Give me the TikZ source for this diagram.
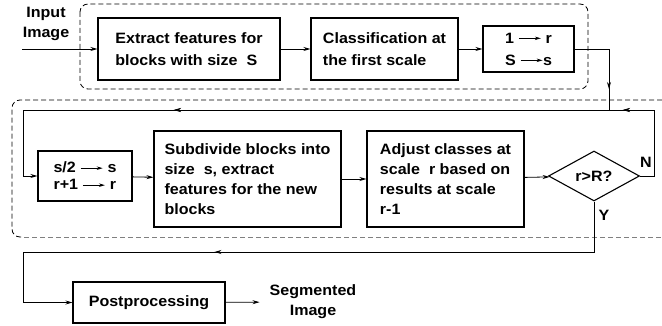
\documentclass[tikz,border=0pt]{standalone}
\usepackage{fontspec}
\setmainfont{Liberation Sans}[FakeStretch=1.07]
\usepackage{tikz}
\usetikzlibrary{arrows.meta, shapes.geometric, decorations.markings}

\newcommand{\goesto}{\tikz[baseline=-0.6ex]\draw[line width=0.8pt,-{Stealth[length=6pt,width=3.5pt]}] (0,0) -- (22pt,0);}

\tikzset{
  box/.style={draw, line width=1.1pt, align=left, inner sep=2pt,
    font=\fontsize{15}{20}\selectfont\bfseries},
  label/.style={align=center, inner sep=0pt,
    font=\fontsize{15}{20}\selectfont\bfseries},
  arr/.style={line width=0.8pt, -{Stealth[length=7pt,width=4pt]}},
  line/.style={line width=0.8pt},
  group/.style={dashed, dash pattern=on 5pt off 3pt, line width=0.8pt},
  tipat/.style={decoration={markings,
      mark=at position #1 with {\arrow{Stealth[length=7pt,width=4pt]}}},
    postaction={decorate}}
}

\begin{document}
\begin{tikzpicture}[x=1pt, y=-1pt]
  \useasboundingbox (0,0) rectangle (662,326);
  % first scale
  \draw[group, rounded corners=8pt] (80,4) rectangle (588,89);
  \node[label] (input) at (46,24) {Input\\Image};
  \coordinate (start) at (22,49);
  \node[box, minimum width=182pt, minimum height=62pt,
    font=\fontsize{15}{22}\selectfont\bfseries] (extract) at (189,49)
    {Extract features for\\blocks with size~~S};
  \node[box, minimum width=147pt, minimum height=62pt,
    font=\fontsize{15}{22}\selectfont\bfseries] (classify) at (384.5,49)
    {Classification at\\the first scale};
  \node[box, align=center, minimum width=91pt, minimum height=46pt,
    font=\fontsize{15}{22}\selectfont\bfseries] (init) at (528.5,49)
    {1 \goesto\ r\\S \goesto s};
  \draw[arr] (start) -- (extract);
  \draw[arr] (extract) -- (classify);
  \draw[arr] (classify) -- (init);

  % finer scales
  \draw[group, rounded corners=8pt] (662,100) -- (12,100) -- (12,237) -- (24,237);
  \draw[group, gray] (24,237) -- (662,237);
  \node[box, minimum width=94pt, minimum height=50pt,
    font=\fontsize{15}{17}\selectfont\bfseries] (update) at (85,176)
    {s/2 \goesto\ s\\r+1 \goesto\ r};
  \node[box, minimum width=187pt, minimum height=96pt] (subdiv) at (247.5,179)
    {Subdivide blocks into\\size~~s, extract\\features for the new\\blocks};
  \node[box, minimum width=157pt, minimum height=96pt] (adjust) at (445.5,179)
    {Adjust classes at\\scale~~r based on\\results at scale\\r-1};
  \node[diamond, draw, line width=1.1pt, inner sep=0pt, aspect=1.8,
    minimum width=91pt, minimum height=50pt,
    font=\fontsize{15}{20}\selectfont\bfseries] (test) at (594,176) {r>R?};
  \node[label] (no) at (646,162) {N};
  \node[label] (yes) at (604,215) {Y};
  \coordinate (join) at (609,110);
  \coordinate (ne) at (654,110);
  \coordinate (nw) at (23,110);
  \draw[line, tipat=0.78] (init.east) -| (join);
  \draw[arr, tipat=111pt, tipat=560pt] (test.east) -| (ne) -- (nw) |- (update.west);
  \draw[arr] (update) -- (subdiv);
  \draw[arr] (subdiv) -- (adjust);
  \draw[arr] (adjust) -- (test);

  % postprocessing
  \coordinate (sw) at (23,252);
  \node[box, minimum width=152pt, minimum height=41pt] (post) at (149,302.5)
    {Postprocessing};
  \node[label, inner sep=10pt] (output) at (313,302) {Segmented\\Image};
  \draw[arr, tipat=430pt] (test.south) |- (sw) |- (post.west);
  \draw[arr] (post) -- (output);
\end{tikzpicture}
\end{document}
